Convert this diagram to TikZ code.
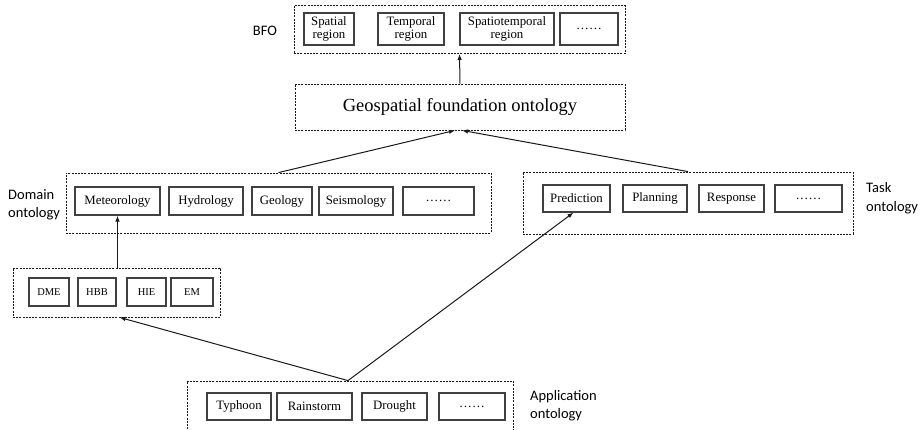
\documentclass[tikz,border=0pt]{standalone}
\usepackage{fontspec}
\setmainfont{Liberation Serif}
\newfontfamily\labfont{Carlito}
\usetikzlibrary{arrows.meta}
\begin{document}
\begin{tikzpicture}[x=1pt,y=-1pt,
  outer/.style={draw=black!90, line width=0.8pt, dash pattern=on 2pt off 1.2pt, inner sep=0pt, rectangle},
  ib/.style={draw=black!75, line width=1.1pt, inner sep=1pt, align=center, rectangle,
             font=\fontsize{12.8}{13.5}\selectfont},
  sb/.style={ib, font=\fontsize{10.5}{11}\selectfont},
  lab/.style={font=\labfont\fontsize{14.5}{18.5}\selectfont, align=left, anchor=west, inner sep=0pt},
  arr/.style={draw=black!90, line width=1pt, -{Latex[length=6pt,width=4.5pt]}}
]
\useasboundingbox (0,0) rectangle (921,430);

% BFO
\node[outer, minimum width=331, minimum height=48] (bfo) at (459.5,29.5) {};
\node[ib, minimum width=50, minimum height=32] (sp) at (329,29) {Spatial\\region};
\node[ib, minimum width=66, minimum height=32] (tp) at (411,29) {Temporal\\region};
\node[ib, minimum width=94, minimum height=32] (st) at (507,29) {Spatiotemporal\\region};
\node[ib, minimum width=58, minimum height=32] (bd) at (589,29) {……};
\node[lab, anchor=center] (bfol) at (265,31) {BFO};

% Geospatial foundation ontology
\node[outer, minimum width=330, minimum height=46, font=\fontsize{18.5}{20}\selectfont] (geo) at (460,107) {Geospatial foundation ontology};

% Domain ontology
\node[outer, minimum width=425, minimum height=60] (dom) at (278.5,203) {};
\node[ib, minimum width=85, minimum height=28] (met) at (117.5,201) {Meteorology};
\node[ib, minimum width=74, minimum height=28] (hyd) at (206,201) {Hydrology};
\node[ib, minimum width=60, minimum height=28] (geol) at (282,201) {Geology};
\node[ib, minimum width=74, minimum height=28] (seis) at (356,201) {Seismology};
\node[ib, minimum width=71, minimum height=28] (dd) at (438.5,201) {……};
\node[lab] (doml) at (8,205) {Domain\\ontology};

% Task ontology
\node[outer, minimum width=330, minimum height=62] (task) at (688,203) {};
\node[ib, minimum width=67, minimum height=27] (pred) at (576.5,198.5) {Prediction};
\node[ib, minimum width=64, minimum height=27] (plan) at (655,198.5) {Planning};
\node[ib, minimum width=65, minimum height=27] (resp) at (731.5,198.5) {Response};
\node[ib, minimum width=67, minimum height=27] (td) at (808.5,198.5) {……};
\node[lab] (taskl) at (866,198) {Task\\ontology};

% DME group
\node[outer, minimum width=207, minimum height=49] (grp) at (116.5,292.5) {};
\node[sb, minimum width=40, minimum height=28] (dme) at (49,292) {DME};
\node[sb, minimum width=38, minimum height=28] (hbb) at (97,292) {HBB};
\node[sb, minimum width=39, minimum height=28] (hie) at (146.5,292) {HIE};
\node[sb, minimum width=42, minimum height=28] (em) at (192,292) {EM};

% Application ontology
\node[outer, minimum width=326, minimum height=57] (app) at (350,409.5) {};
\node[ib, minimum width=64, minimum height=27] (typ) at (239,406.5) {Typhoon};
\node[ib, minimum width=75, minimum height=27] (rain) at (314.5,406.5) {Rainstorm};
\node[ib, minimum width=65, minimum height=27] (dro) at (394.5,406.5) {Drought};
\node[ib, minimum width=66, minimum height=27] (ad) at (472,406.5) {……};
\node[lab] (appl) at (530,405.5) {Application\\ontology};

% connectors
\draw[arr] (geo.north) -- (bfo.south);
\draw[arr] (dom.north) -- ([xshift=-5pt]geo.south);
\draw[arr] (task.north) -- ([xshift=2pt]geo.south);
\draw[arr] (met.south |- grp.north) -- (met.south);
\draw[arr] ([xshift=-2pt]app.north) -- ([xshift=3pt]grp.south);
\draw[arr] ([xshift=-2pt]app.north) -- ([xshift=-3pt]pred.south);
\end{tikzpicture}
\end{document}
